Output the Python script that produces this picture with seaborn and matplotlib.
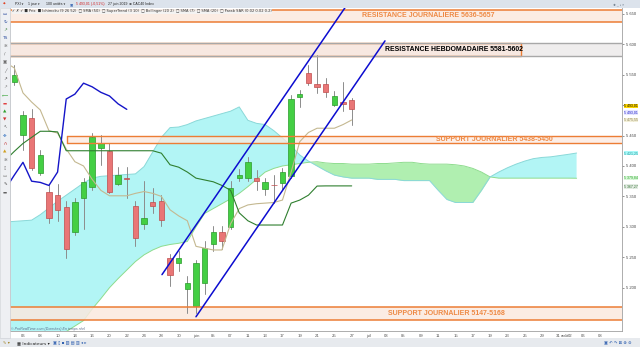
import numpy as np
import pandas as pd
import matplotlib
matplotlib.use("Agg")
import matplotlib.pyplot as plt
from matplotlib.patches import Rectangle
import seaborn as sns

# ---------------- data ----------------
candle_idx = list(range(1, 41))   # 3 mai .. 27 juin 2019 (trading days)
opens = [5538, 5451, 5479, 5388, 5357, 5353, 5332, 5291, 5348, 5365,
         5429, 5424, 5371, 5381, 5335, 5305, 5340, 5342, 5248, 5241,
         5198, 5170, 5207, 5271, 5292, 5299, 5381, 5381, 5380, 5362,
         5369, 5372, 5383, 5513, 5553, 5535, 5535, 5500, 5505, 5508]
highs = [5566, 5491, 5493, 5426, 5368, 5371, 5343, 5347, 5380, 5454,
         5451, 5437, 5398, 5398, 5343, 5376, 5363, 5352, 5256, 5261,
         5220, 5245, 5277, 5302, 5302, 5376, 5395, 5414, 5393, 5381,
         5385, 5396, 5517, 5525, 5566, 5582, 5545, 5523, 5538, 5512]
lows = [5533, 5426, 5393, 5385, 5307, 5310, 5248, 5286, 5297, 5360,
        5401, 5355, 5368, 5347, 5269, 5297, 5322, 5302, 5203, 5228,
        5159, 5159, 5190, 5261, 5264, 5297, 5375, 5375, 5360, 5352,
        5339, 5360, 5380, 5497, 5533, 5520, 5513, 5498, 5490, 5467]
closes = [5549, 5483, 5396, 5418, 5314, 5327, 5263, 5340, 5373, 5447,
          5437, 5358, 5385, 5378, 5281, 5315, 5335, 5312, 5221, 5248,
          5207, 5240, 5266, 5291, 5277, 5363, 5385, 5406, 5375, 5373,
          5368, 5390, 5510, 5518, 5536, 5530, 5521, 5515, 5502, 5493.01]

line_idx = list(range(0, 41))
tenkan = [5570, 5561, 5520, 5505, 5492, 5458, 5454, 5428, 5407, 5400,
          5378, 5360, 5351, 5351, 5351, 5355, 5358, 5355, 5350, 5328,
          5318, 5310, 5268, 5265, 5262, 5262, 5305, 5330, 5336, 5338,
          5339, 5340, 5344, 5390, 5440, 5455, 5462, 5462, 5462, 5468, 5475.55]
kijun = [5410, 5424, 5437, 5447, 5457, 5457, 5456, 5425, 5425, 5425,
         5425, 5425, 5425, 5425, 5425, 5425, 5425, 5425, 5421, 5402,
         5398, 5390, 5380, 5377, 5374, 5368, 5360, 5323, 5310, 5303,
         5303, 5303, 5303, 5339, 5344, 5352, 5367, 5367.27, 5367.27, 5367.27, 5367.27]

cloud_idx = list(range(0, 67))
senkou_a = [5050, 5060, 5070, 5082, 5095, 5105, 5115, 5128, 5137, 5146,
            5165, 5182, 5200, 5215, 5229, 5243, 5254, 5262, 5268, 5271,
            5273, 5276, 5300, 5322, 5330, 5338, 5346, 5355, 5366, 5378,
            5390, 5396, 5400, 5402, 5404, 5406, 5407, 5405, 5404, 5404,
            5403, 5403, 5403, 5404, 5404, 5405, 5406, 5406, 5404, 5403,
            5403, 5403, 5402, 5400, 5396, 5390, 5382, 5380, 5380, 5380,
            5380, 5380, 5380, 5380, 5380, 5380, 5379.84]
senkou_b = [5308, 5309, 5310, 5311, 5320, 5331, 5342, 5352, 5362, 5372,
            5380, 5383, 5384, 5385, 5386, 5387, 5399, 5423, 5447, 5463,
            5464, 5468, 5474, 5478, 5482, 5486, 5490, 5497, 5475, 5470,
            5468, 5458, 5446, 5433, 5418, 5408, 5400, 5392, 5385, 5382,
            5380, 5380, 5380, 5378, 5378, 5378, 5376, 5376, 5376, 5376,
            5360, 5345, 5340, 5340, 5340, 5360, 5382, 5390, 5397, 5403,
            5408, 5412, 5414, 5415, 5417, 5419, 5421.25]

date_pos = [2, 4, 6, 8, 10, 12, 14, 16, 18, 20, 22, 24, 26, 28, 30, 32, 34, 36,
            38, 40, 42, 44, 46, 48, 50, 52, 54, 56, 58, 60, 62, 63.9, 64.6, 65.3,
            66.75, 68.7]
date_labels = ["06", "08", "10", "14", "16", "20", "22", "24", "28", "30", "juin",
               "05", "07", "11", "13", "17", "19", "21", "25", "27", "juil", "03",
               "05", "09", "11", "15", "17", "19", "23", "25", "29", "31", "août",
               "02", "06", "08"]

price_ticks = [5200, 5250, 5300, 5350, 5400, 5450, 5500, 5550, 5600, 5650]
hidden_tick = 5500   # covered by the value tags in the reference

res_day = (5636, 5657)
res_week = (5581, 5602)
sup_day_hi = (5438, 5450)
sup_day_lo = (5147, 5168)

chan1_x = [18.07, 39.46]
chan1_y = [5221.5, 5664.8]
chan2_x = [22.0, 43.85]
chan2_y = [5152.3, 5605.5]

tag_texts = ["5 493,01", "5 493,01", "5 475,55", "5 421,25", "5 379,84", "5 367,27"]
tag_prices = [5499, 5488, 5475.5, 5421.25, 5380.5, 5366.5]

# ---------------- figure ----------------
sns.set_theme(style="white")
plt.rcParams['font.family'] = ['Liberation Sans', 'DejaVu Sans']

W, H = 640, 347
fig = plt.figure(figsize=(6.4, 3.47), dpi=100)
fig.patch.set_facecolor('white')


def fx(px):
    return px / W


def fy(py):
    return 1 - py / H


ax = fig.add_axes([fx(10), fy(331), fx(622) - fx(10), fy(8) - fy(331)])
ax.set_facecolor('white')
ax.set_xlim(0.5, 71.25)
ax.set_ylim(5128.9, 5659.5)

# Ichimoku cloud
ci = np.array(cloud_idx, float)
A = np.array(senkou_a, float)
B = np.array(senkou_b, float)
ax.fill_between(ci, A, B, where=B >= A, interpolate=True, color='#b2f5f5', lw=0, zorder=1)
ax.fill_between(ci, A, B, where=B < A, interpolate=True, color='#b0efb0', lw=0, zorder=1)
sns.lineplot(x=ci, y=A, ax=ax, color='#8ddc8d', lw=0.7, zorder=2)
sns.lineplot(x=ci, y=B, ax=ax, color='#8ad8d8', lw=0.7, zorder=2)

# horizontal zones
band_fc = '#fbe9df'
orange = '#ec7d35'
ax.axhspan(*res_day, color=band_fc, alpha=0.85, lw=0, zorder=3)
for v in res_day:
    ax.axhline(v, color=orange, lw=1.1, zorder=6)
ax.axhspan(*res_week, color='#efeded', lw=0, zorder=3)
for v in res_week:
    ax.axhline(v, color='#a8a8a8', lw=1.0, zorder=6)
ax.add_patch(Rectangle((0.3, res_week[0]), 59.6 - 0.3, res_week[1] - res_week[0],
                       fc='#f7e8e1', ec=orange, lw=1.0, zorder=4))
ax.add_patch(Rectangle((7.1, sup_day_hi[0]), 80 - 7.1, sup_day_hi[1] - sup_day_hi[0],
                       fc=band_fc, alpha=0.75, ec='none', zorder=3))
for v in sup_day_hi:
    ax.plot([7.1, 80], [v, v], color=orange, lw=1.0, zorder=6)
ax.plot([7.1, 7.1], list(sup_day_hi), color=orange, lw=1.0, zorder=6)
ax.axhspan(*sup_day_lo, color=band_fc, alpha=0.85, lw=0, zorder=3)
for v in sup_day_lo:
    ax.axhline(v, color=orange, lw=1.1, zorder=6)

# candles
for i, o, h, l, c in zip(candle_idx, opens, highs, lows, closes):
    ax.plot([i, i], [l, h], color='#8c8c8c', lw=0.7, zorder=4.5)
cdf = pd.DataFrame({"i": candle_idx, "o": opens, "c": closes})
cdf["bottom"] = cdf[["o", "c"]].min(axis=1)
cdf["height"] = (cdf["c"] - cdf["o"]).abs().clip(lower=1.2)
cdf["up"] = cdf["c"] >= cdf["o"]
for _, r in cdf.iterrows():
    fc = '#44cf44' if r["up"] else '#e97676'
    ec = '#2b9a2b' if r["up"] else '#c04c4c'
    ax.bar(r["i"], r["height"], bottom=r["bottom"], width=0.62, color=fc,
           edgecolor=ec, linewidth=0.5, zorder=5)

# ichimoku lines
li = np.array(line_idx, float)
sns.lineplot(x=li, y=tenkan, ax=ax, color='#c4b890', lw=0.8, zorder=5.5)
sns.lineplot(x=li, y=kijun, ax=ax, color='#2f7f2f', lw=0.8, zorder=5.5)
chikou_x = np.array(candle_idx, float) - 26
sns.lineplot(x=chikou_x, y=closes, ax=ax, color='#1414c8', lw=1.0, zorder=5.5)

# trend channel
ax.plot(chan1_x, chan1_y, color='#0c0cd0', lw=1.1, zorder=7)
ax.plot(chan2_x, chan2_y, color='#0c0cd0', lw=1.1, zorder=7)

# zone labels
ax.text(48.8, sum(res_day) / 2, "RESISTANCE JOURNALIERE 5636-5657", color='#ee8a45',
        fontsize=5.0, fontweight='bold', ha='center', va='center', zorder=8)
ax.text(51.8, sum(res_week) / 2, "RESISTANCE HEBDOMADAIRE 5581-5602", color='black',
        fontsize=4.95, fontweight='bold', ha='center', va='center', zorder=8)
ax.text(56.5, sum(sup_day_hi) / 2, "SUPPORT JOURNALIER 5438-5450", color='#ee8a45',
        fontsize=5.0, fontweight='bold', ha='center', va='center', zorder=8)
ax.text(50.9, sum(sup_day_lo) / 2, "SUPPORT JOURNALIER 5147-5168", color='#ee8a45',
        fontsize=5.0, fontweight='bold', ha='center', va='center', zorder=8)
ax.text(0.65, 5131.5, "© ProRealTime.com (Données) En temps réel", fontsize=2.6,
        color='#5a6a8a', style='italic', ha='left', va='center', zorder=8)

# axes styling
sns.despine(ax=ax, top=True, left=False, right=False, bottom=False)
for s in ('left', 'right', 'bottom'):
    ax.spines[s].set_color('#a0a0a0')
    ax.spines[s].set_linewidth(0.6)
ax.yaxis.tick_right()
ax.set_yticks(price_ticks)
ax.set_yticklabels(["" if t == hidden_tick else f"{t // 1000} {t % 1000:03d}"
                    for t in price_ticks])
ax.tick_params(axis='y', labelsize=3.0, colors='#444444', length=1.5, width=0.4, pad=1.5)
ax.set_xticks(date_pos)
ax.set_xticklabels(date_labels)
ax.tick_params(axis='x', labelsize=3.1, colors='#555555', length=0, pad=2.2)
ax.set_xlabel("")
ax.set_ylabel("")
ax.grid(False)

tag_styles = [('#ffd700', 'black'), ('#e8e8ff', '#1414c8'), ('#f2efd8', '#8a7f50'),
              ('#a8f8f8', '#2a9a9a'), ('#d8f8d8', '#2aa02a'), ('#e4ece4', '#2f6f2f')]
ytr = ax.get_yaxis_transform()
for t, p, (bg, fgc) in zip(tag_texts, tag_prices, tag_styles):
    ax.text(1.003, p, t, transform=ytr, fontsize=2.5, color=fgc, ha='left', va='center',
            bbox=dict(boxstyle='square,pad=0.05', fc=bg, ec='none'), zorder=9, clip_on=False)

# ---------------- application chrome ----------------
fig.patches.append(Rectangle((0, fy(8)), 1, 8 / H, transform=fig.transFigure,
                             fc='#dce3ec', ec='none', zorder=0))
fig.patches.append(Rectangle((0, 0), 1, 9 / H, transform=fig.transFigure,
                             fc='#e7eaee', ec='none', zorder=0))
fig.patches.append(Rectangle((0, fy(338)), fx(10), (338 - 8) / H, transform=fig.transFigure,
                             fc='#eef0f3', ec='#c8ccd2', lw=0.4, zorder=0))

top_kw = dict(fontsize=2.5, va='center', family=['Liberation Sans', 'DejaVu Sans'])
fig.text(fx(3), fy(4), "◆", color='#e04020', **top_kw)
fig.text(fx(15), fy(4), "PXI ▾", color='#222222', **top_kw)
fig.text(fx(28), fy(4), "1 jour ▾", color='#222222', **top_kw)
fig.text(fx(46), fy(4), "100 unités ▾", color='#222222', **top_kw)
fig.text(fx(70), fy(4), "▣", color='#3060b0', **top_kw)
fig.text(fx(76), fy(4), "5 493,01 (-0,51%)", color='#d02020', **top_kw)
fig.text(fx(108), fy(4), "27 juin 2019", color='#222222', **top_kw)
fig.text(fx(129), fy(4), "⊕ CAC40 Index", color='#222222', **top_kw)
fig.text(fx(613), fy(4), "✚ _ ▫ ×", color='#607080', **top_kw)

fig.text(fx(12), fy(11.2),
         "✓ ✗ ✓ ■ Prix  ■ Ichimoku (9 26 52)  □ SMA (50)  □ SuperTrend (3 10)  "
         "□ Bollinger (20 2)  □ SMA (7)  □ SMA (20)  □ Parab SAR (0.02 0.02 0.2)",
         fontsize=2.6, color='#333333', va='center', family=['DejaVu Sans'],
         bbox=dict(boxstyle='square,pad=0.1', fc='#f4f4f4', ec='none', alpha=0.9))

icons = ["▭", "↻", "↗", "TS", "✲", "∕", "▣", "╱", "↗", "↗", "⟵", "▬", "▲", "▼",
         "↖", "✥", "∩", "▲", "✲", "▯", "▭", "✎", "▬"]
icon_cols = ['#3050a0', '#3050a0', '#408040', '#3050a0', '#606060', '#606060', '#606060',
             '#606060', '#404040', '#808080', '#30a030', '#e04040', '#30a030', '#d03030',
             '#606060', '#3070c0', '#c03030', '#d0a020', '#606060', '#808080', '#808080',
             '#404040', '#606060']
for k, (ic, col) in enumerate(zip(icons, icon_cols)):
    fig.text(fx(5), fy(14 + k * 8.1), ic, fontsize=3.2, color=col, ha='center',
             va='center', family=['DejaVu Sans'])

fig.text(fx(3), fy(343), "✎ ▾", fontsize=3.0, color='#a08020', va='center',
         family=['DejaVu Sans'])
fig.text(fx(17), fy(343), "▦ Indicateurs ▾", fontsize=3.1, color='#222222', va='center',
         family=['DejaVu Sans'])
fig.text(fx(53), fy(343), "▣ ▯ ▪ ▨ ▤ ▥ ◂ ▸", fontsize=3.0, color='#3060b0', va='center',
         family=['DejaVu Sans'])
fig.text(fx(604), fy(343), "▣ ↶ ↷ ⊠ ⊕ ⊖", fontsize=3.0, color='#3060b0', va='center',
         family=['DejaVu Sans'])

fig.savefig("out.png", dpi=100, facecolor='white')
